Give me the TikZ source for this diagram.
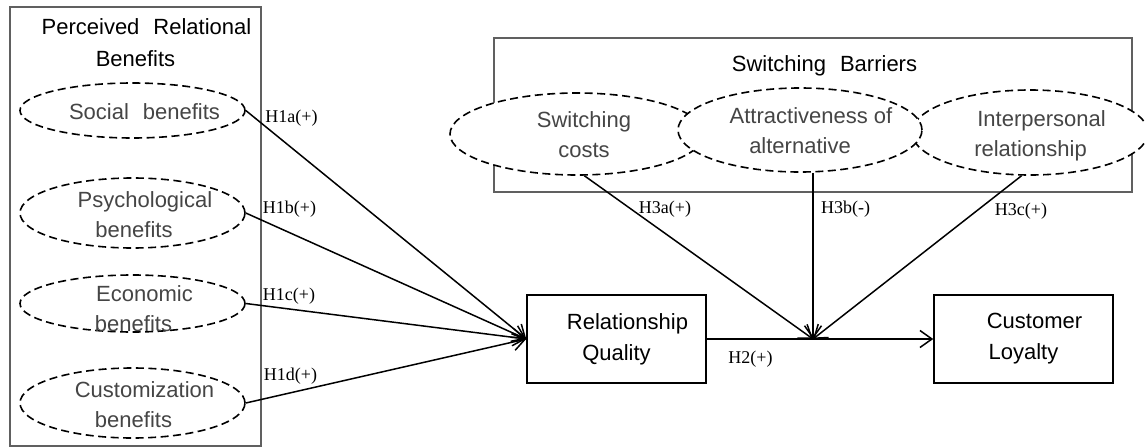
\documentclass[tikz,border=0pt]{standalone}
\usepackage{fontspec}
\setmainfont{Liberation Serif}
\setsansfont{Liberation Sans}
\usetikzlibrary{shapes.geometric, arrows.meta}
\definecolor{framegray}{HTML}{606060}
\definecolor{textgray}{HTML}{454545}
\newcommand{\lead}{\hspace*{22pt}}
\tikzstyle{frame} = [draw=framegray, line width=1.1pt]
\tikzstyle{construct} = [ellipse, draw, fill=white, dash pattern=on 8pt off 4.5pt,
line width=1.6pt, inner sep=0pt, minimum width=225pt]
\tikzstyle{ctext} = [text=textgray, align=center, inner sep=0pt,
font=\sffamily\fontsize{22}{30}\selectfont]
\tikzstyle{block} = [rectangle, draw, line width=1.5pt, minimum width=179pt,
minimum height=88pt, align=center, font=\sffamily\fontsize{22}{31}\selectfont]
\tikzstyle{title} = [align=center, inner sep=0pt, font=\sffamily\fontsize{22}{32}\selectfont]
\tikzstyle{line} = [draw, line width=1.5pt, -{Straight Barb[length=12pt,width=17pt,line width=1.5pt]}]
\tikzstyle{hyp} = [inner sep=0pt, font=\fontsize{18}{20}\selectfont]

\begin{document}
\begin{tikzpicture}[x=1pt, y=-1pt]
    \useasboundingbox (0,0) rectangle (1145,447);
    % group frames
    \draw [frame] (10,7) rectangle (261,446);
    \draw [frame] (494,38) rectangle (1132,192);
    \node [title] (prbtitle) at (135.5,43) {\lead Perceived\hspace{14pt}Relational\\Benefits};
    \node [title] (sbtitle) at (824.5,66) {Switching\hspace{14pt}Barriers};
    % relational benefits
    \node [construct, minimum height=55pt] (social) at (132.5,110.5) {};
    \node [construct, minimum height=70pt] (psych) at (132.5,213) {};
    \node [construct, minimum height=57pt] (econ) at (132.5,303.5) {};
    \node [construct, minimum height=70pt] (custom) at (132.5,403) {};
    \node [ctext] (socialtext) at (144.5,112) {Social\hspace{14pt}benefits};
    \node [ctext] (psychtext) at (134,215) {\lead Psychological\\benefits};
    \node [ctext] (econtext) at (133.5,309) {\lead Economic\\benefits};
    \node [ctext] (customtext) at (133.5,405) {\lead Customization\\benefits};
    % switching barriers (middle one on top)
    \node [construct, minimum width=254pt, minimum height=82pt] (costs) at (577,134) {};
    \node [construct, minimum width=236pt, minimum height=85pt] (inter) at (1030,132.5) {};
    \node [construct, minimum width=244pt, minimum height=84pt] (attract) at (800,130) {};
    \node [ctext] (coststext) at (584,135) {Switching\\costs};
    \node [ctext] (attracttext) at (800,131) {\lead Attractiveness of\\alternative};
    \node [ctext] (intertext) at (1030.5,136) {\lead Interpersonal\\relationship};
    % outcomes
    \node [block] (rq) at (616.5,339) {\lead Relationship\\Quality};
    \node [block] (loyalty) at (1023.5,339) {\lead Customer\\Loyalty};
    \coordinate (mod) at (813,339);
    % paths
    \path [line] (social.east) -- (rq.west);
    \path [line] (psych.east) -- (rq.west);
    \path [line] (econ.east) -- (rq.west);
    \path [line] (custom.east) -- (rq.west);
    \path [line] (rq) -- (loyalty);
    \path [line] (costs.-80) -- (mod);
    \path [line] (attract.south -| mod) -- (mod);
    \path [line] (inter.-101) -- (mod);
    % hypotheses
    \node [hyp] (h1a) at (291.5,118) {H1a(+)};
    \node [hyp] (h1b) at (289.5,209) {H1b(+)};
    \node [hyp] (h1c) at (289,296) {H1c(+)};
    \node [hyp] (h1d) at (290.5,376) {H1d(+)};
    \node [hyp] (h2) at (750.5,359) {H2(+)};
    \node [hyp] (h3a) at (665,209) {H3a(+)};
    \node [hyp] (h3b) at (845.5,209) {H3b(-)};
    \node [hyp] (h3c) at (1021,211) {H3c(+)};
\end{tikzpicture}
\end{document}
